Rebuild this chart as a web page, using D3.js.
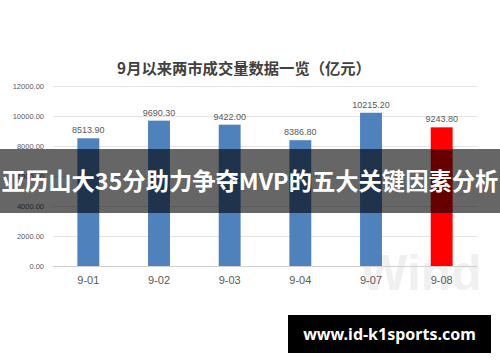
<!DOCTYPE html>
<html><head><meta charset="utf-8">
<script src="https://cdn.jsdelivr.net/npm/d3@7/dist/d3.min.js"></script>
<style>body{margin:0;background:#fff}svg{display:block}</style>
</head><body>
<svg id="c" width="500" height="362"></svg>
<script>
const categories = ["9-01","9-02","9-03","9-04","9-07","9-08"];
const values = [8513.90, 9690.30, 9422.00, 8386.80, 10215.20, 9243.80];
const barColors = ["#4f81bd","#4f81bd","#4f81bd","#4f81bd","#4f81bd","#ff0000"];
const yTicks = [0, 2000, 4000, 6000, 8000, 10000, 12000];
const title = "9月以来两市成交量数据一览（亿元）";
const banner = "亚历山大35分助力争夺MVP的五大关键因素分析";
const site = "www.id-k1sports.com";

const svg = d3.select("#c");
const font = "'Noto Sans CJK SC','Noto Sans',sans-serif";
const x = d3.scaleBand().domain(categories).range([53, 477]).paddingInner(0.69).paddingOuter(0.345);
const y = d3.scaleLinear().domain([0, 12000]).range([266, 86]);

// watermark
svg.append("text").attr("x", 421).attr("y", 290).attr("text-anchor","middle")
  .attr("font-family","Arial, 'Liberation Sans', sans-serif").attr("font-weight","bold")
  .attr("font-size", 50).attr("fill","#f0f0f0").text("Wind");

// grid
svg.append("g").selectAll("line").data(yTicks).join("line")
  .attr("x1",53).attr("x2",477).attr("y1",d=>y(d)+0.5).attr("y2",d=>y(d)+0.5)
  .attr("stroke", d=> d===0 ? "#d0d0d0" : "#e4e4e4").attr("stroke-width",1);

// y axis labels
const yAxis = d3.axisLeft(y).tickValues(yTicks).tickSize(0).tickPadding(0).tickFormat(d=>d3.format(".2f")(d));
const ya = svg.append("g").attr("transform","translate(44,0)").call(yAxis);
ya.select(".domain").remove();
ya.selectAll("text").attr("font-size",7.5).attr("fill","#595959").attr("font-family","'Liberation Sans',Arial,sans-serif");

// x axis labels
const xAxis = d3.axisBottom(x).tickSize(0).tickPadding(0);
const xa = svg.append("g").attr("transform","translate(0,276)").call(xAxis);
xa.select(".domain").remove();
xa.selectAll("text").attr("font-size",11).attr("fill","#595959").attr("font-family","'Liberation Sans',Arial,sans-serif");

// bars
svg.append("g").selectAll("rect").data(values).join("rect")
  .attr("x",(d,i)=>x(categories[i])).attr("width",x.bandwidth())
  .attr("y",d=>y(d)).attr("height",d=>y(0)-y(d)).attr("fill",(d,i)=>barColors[i]);

// value labels
svg.append("g").selectAll("text").data(values).join("text")
  .attr("x",(d,i)=>x(categories[i])+x.bandwidth()/2).attr("y",d=>y(d)-5)
  .attr("text-anchor","middle").attr("font-size",9).attr("fill","#595959")
  .attr("font-family","'Liberation Sans',Arial,sans-serif")
  .text(d=>d3.format(".2f")(d));

// title
svg.append("text").attr("x",244).attr("y",74).attr("text-anchor","middle")
  .attr("font-family",font).attr("font-weight","bold").attr("font-size",15.3).attr("fill","#404040").text(title);

// banner
svg.append("rect").attr("x",0).attr("y",149).attr("width",500).attr("height",64).attr("fill","rgba(0,0,0,0.6)");
svg.append("text").attr("x",250).attr("y",190).attr("text-anchor","middle")
  .attr("font-family",font).attr("font-weight","bold").attr("font-size",23.3).attr("fill","#fff").text(banner);

// site box
svg.append("rect").attr("x",288).attr("y",315).attr("width",203).attr("height",38).attr("fill","#000");
svg.append("text").attr("x",389.5).attr("y",339.5).attr("text-anchor","middle")
  .attr("font-family","'Noto Sans','Open Sans',sans-serif").attr("font-weight","bold").attr("font-size",16).attr("fill","#fff").text(site);
</script>
</body></html>
